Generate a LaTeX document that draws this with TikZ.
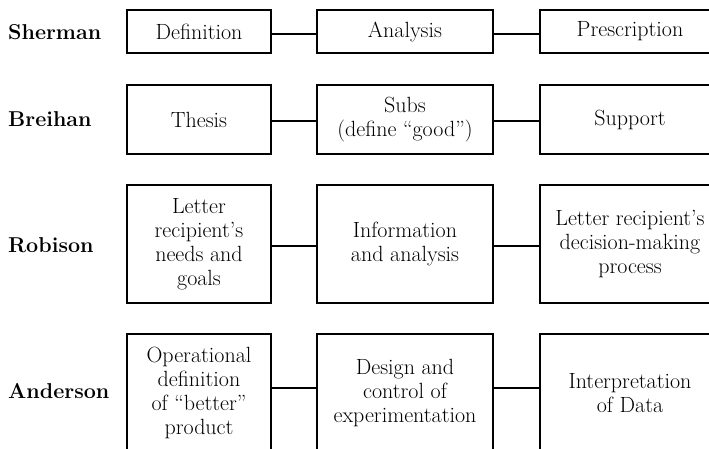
\documentclass[tikz,border=0pt]{standalone}
\begin{document}
\begin{tikzpicture}[x=1pt,y=-1pt,
  every node/.style={font=\fontsize{22}{24}\selectfont},
  box/.style={draw,line width=1.2pt,rectangle,align=center,inner sep=0pt},
  c1/.style={box,minimum width=144pt},
  c2/.style={box,minimum width=176pt},
  c3/.style={box,minimum width=180pt},
  lab/.style={anchor=west,font=\fontsize{21.5}{24}\selectfont\bfseries,inner sep=0pt},
  link/.style={line width=1.2pt}]
\useasboundingbox (0,0) rectangle (709,449);
\clip (0,0) rectangle (709,449);
% row 1
\node[lab] (l1) at (8,32) {Sherman};
\node[c1,minimum height=43pt] (a1) at (199,31.5) {Definition};
\node[c2,minimum height=43pt] (b1) at (405,31.5) {Analysis};
\node[c3,minimum height=43pt] (d1) at (630,31.5) {Prescription};
% row 2
\node[lab] (l2) at (8,119) {Breihan};
\node[c1,minimum height=69pt] (a2) at (199,119.5) {Thesis};
\node[c2,minimum height=69pt] (b2) at (405,119.5) {Subs\\(define ``good'')};
\node[c3,minimum height=69pt] (d2) at (630,119.5) {Support};
% row 3
\node[lab] (l3) at (8,245) {Robison};
\node[c1,minimum height=118pt] (a3) at (199,244) {Letter\\recipient's\\needs and\\goals};
\node[c2,minimum height=118pt] (b3) at (405,244) {Information\\and analysis};
\node[c3,minimum height=118pt] (d3) at (630,244) {Letter recipient's\\decision-making\\process};
% row 4
\node[lab] (l4) at (8,391) {Anderson};
\node[c1,minimum height=118pt] (a4) at (199,393) {Operational\\definition\\of ``better''\\product};
\node[c2,minimum height=118pt] (b4) at (405,393) {Design and\\control of\\experimentation};
\node[c3,minimum height=118pt] (d4) at (630,393) {Interpretation\\of Data};
% connectors
\foreach \r/\s in {1/-2.5,2/-1.5,3/-2,4/5}{
  \draw[link] ([yshift=\s pt]a\r.east) -- ([yshift=\s pt]b\r.west);
  \draw[link] ([yshift=\s pt]b\r.east) -- ([yshift=\s pt]d\r.west);
}
\end{tikzpicture}
\end{document}
